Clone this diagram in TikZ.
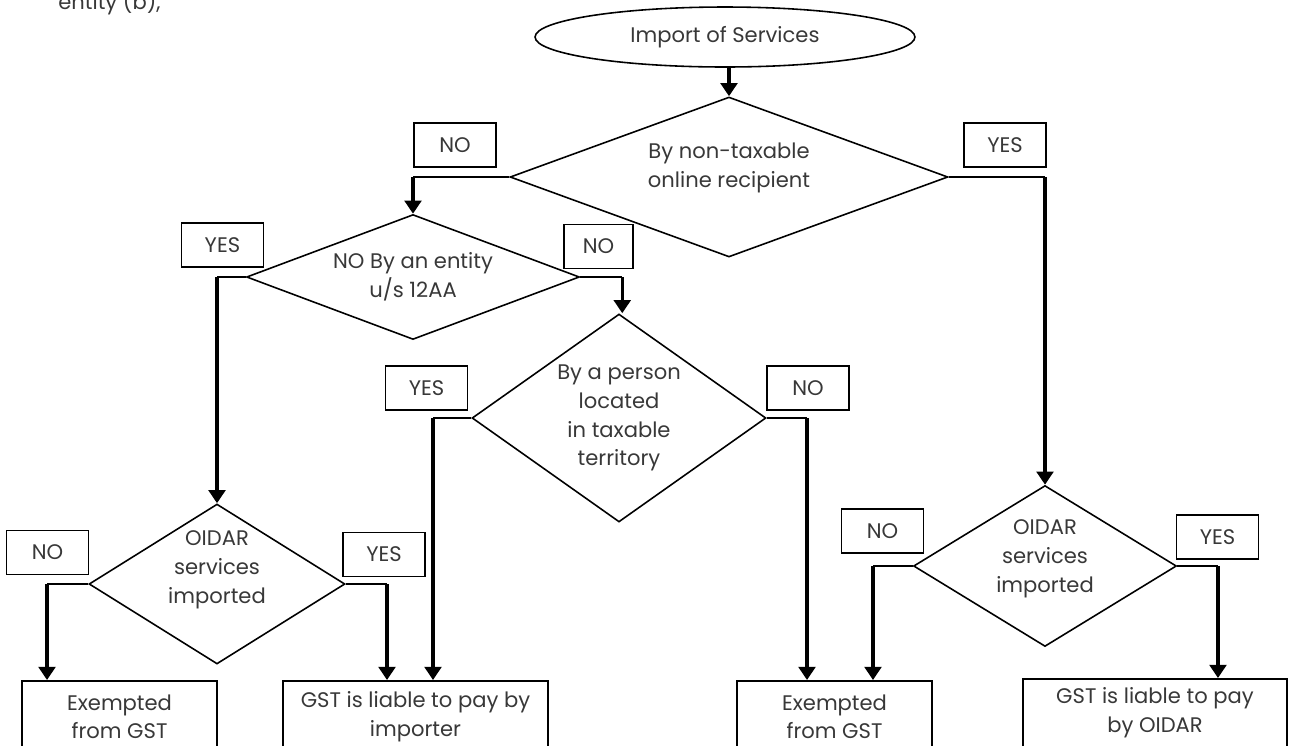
\documentclass[tikz,border=0pt]{standalone}
\usepackage{fontspec}
\setmainfont{Poppins}
\usetikzlibrary{arrows.meta,shapes.geometric,positioning}

\begin{document}
\begin{tikzpicture}[x=0.02cm,y=-0.02cm,
    every node/.style={font=\fontsize{12}{16.4}\selectfont,text=black!78},
    dec/.style={draw=black,diamond,line width=0.9pt,align=center,inner sep=0pt},
    lab/.style={draw=black,line width=0.9pt,minimum width=1.64cm,minimum height=0.88cm,inner sep=0pt},
    res/.style={draw=black,line width=0.9pt,anchor=north,minimum height=1.44cm,align=center,inner sep=2pt},
    edge/.style={line width=1pt},
    arr/.style={line width=1.9pt,-{Triangle[width=9.5pt,length=7.5pt]}}]
  \useasboundingbox (0,0) rectangle (1289,745);

  % cut-off text from the page above
  \node[anchor=base west,inner sep=0pt] (frag) at (58,9) {entity (b),};

  \node[draw=black,ellipse,line width=0.9pt,minimum width=7.6cm,minimum height=1.2cm] (imp) at (725,37) {Import of Services};

  % decisions
  \node[dec,aspect=2.7,minimum width=8.76cm,minimum height=3.2cm,
        label={[align=center,yshift=0.18cm]center:By non-taxable\\online  recipient}] (dnt) at (729,177) {};
  \node[dec,aspect=2.7,minimum width=6.66cm,minimum height=2.5cm] (dent) at (413,277) {NO By an entity\\u/s 12AA};
  \node[dec,aspect=1.4,minimum width=5.88cm,minimum height=4.16cm] (dper) at (619,418) {By a person\\located\\in taxable\\territory};
  \node[dec,minimum width=5.12cm,minimum height=3.2cm,
        label={[align=center,yshift=0.28cm]center:OIDAR\\services\\imported}] (doidl) at (217,584) {};
  \node[dec,minimum width=5.26cm,minimum height=3.22cm,
        label={[align=center,yshift=0.14cm]center:OIDAR\\services\\imported}] (doidr) at (1045,566) {};

  % results
  \node[res,minimum width=3.9cm] (exl) at (119.5,680) {Exempted\\from GST};
  \node[res,minimum width=5.3cm] (gimp) at (415.5,680) {GST is liable to pay by\\importer};
  \node[res,minimum width=3.9cm] (exr) at (834.5,680) {Exempted\\from GST};
  \node[res,minimum width=5.28cm,minimum height=1.36cm] (goid) at (1155,678) {GST is liable to pay\\by OIDAR};

  % yes / no tags
  \node[lab] (no1) at (455,145) {NO};
  \node[lab] (yes1) at (1005,145) {YES};
  \node[lab] (yes2) at (222.5,245) {YES};
  \node[lab,minimum width=1.38cm] (no2) at (598.5,246.5) {NO};
  \node[lab] (yes3) at (426.5,388) {YES};
  \node[lab] (no3) at (808,388) {NO};
  \node[lab] (no4) at (47.5,552.5) {NO};
  \node[lab] (yes4) at (384,554.5) {YES};
  \node[lab] (no5) at (882.5,531) {NO};
  \node[lab] (yes5) at (1217.5,537) {YES};

  % drop points on the result boxes
  \coordinate (exl-in) at ([xshift=-1.45cm]exl.north);
  \coordinate (gimp-a) at ([xshift=-0.57cm]gimp.north);
  \coordinate (gimp-b) at ([xshift=0.35cm]gimp.north);
  \coordinate (exr-a) at ([xshift=-0.55cm]exr.north);
  \coordinate (exr-b) at ([xshift=0.77cm]exr.north);
  \coordinate (goid-in) at ([xshift=1.26cm]goid.north);

  % connectors
  \draw[arr] (imp.south -| dnt.north) -- (dnt.north);
  \draw[edge] (dnt.west) -- (dnt.west -| dent.north);
  \draw[arr] (dnt.west -| dent.north) -- (dent.north);
  \draw[edge] (dnt.east) -- (dnt.east -| doidr.north);
  \draw[arr] (dnt.east -| doidr.north) -- (doidr.north);
  \draw[edge] (dent.west) -- (dent.west -| doidl.north);
  \draw[arr] (dent.west -| doidl.north) -- (doidl.north);
  \draw[edge] (dent.east) -- ++(42,0) coordinate (dent-r);
  \draw[arr] (dent-r) -- (dent-r |- dper.north);
  \draw[edge] (dper.west) -- (dper.west -| gimp-b);
  \draw[arr] (dper.west -| gimp-b) -- (gimp-b);
  \draw[edge] (dper.east) -- (dper.east -| exr-a);
  \draw[arr] (dper.east -| exr-a) -- (exr-a);
  \draw[edge] (doidl.west) -- (doidl.west -| exl-in);
  \draw[arr] (doidl.west -| exl-in) -- (exl-in);
  \draw[edge] (doidl.east) -- (doidl.east -| gimp-a);
  \draw[arr] (doidl.east -| gimp-a) -- (gimp-a);
  \draw[edge] (doidr.west) -- (doidr.west -| exr-b);
  \draw[arr] (doidr.west -| exr-b) -- (exr-b);
  \draw[edge] (doidr.east) -- (doidr.east -| goid-in);
  \draw[arr] (doidr.east -| goid-in) -- (goid-in);
\end{tikzpicture}
\end{document}
